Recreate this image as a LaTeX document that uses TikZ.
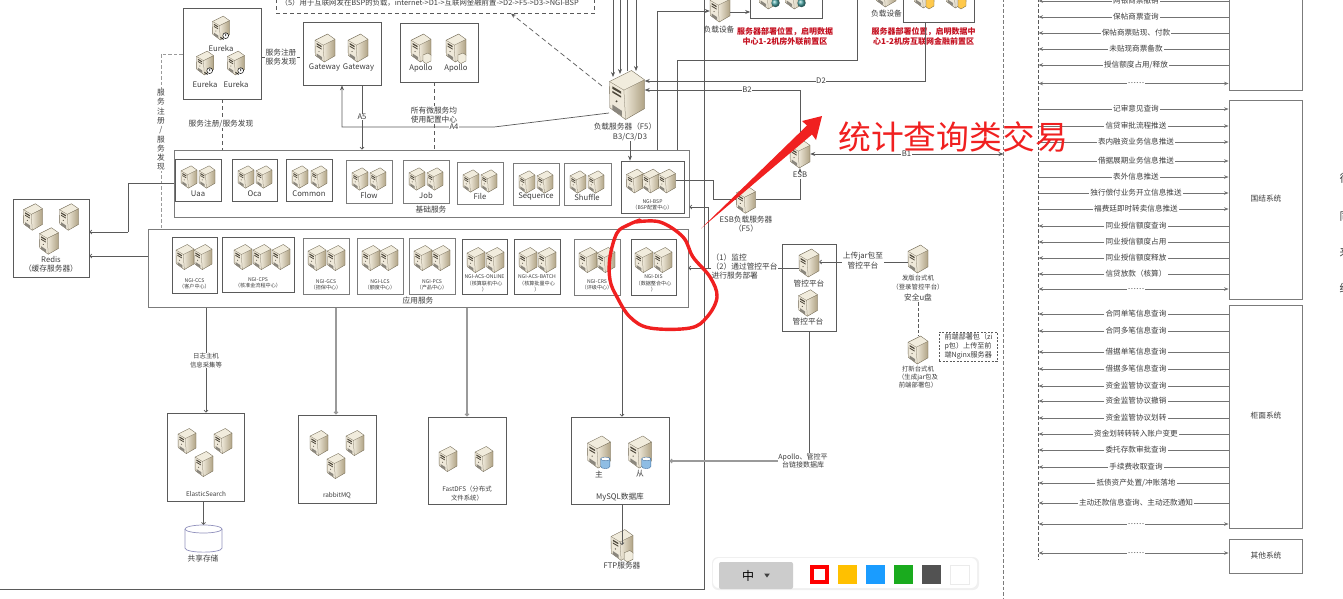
\documentclass[tikz,border=0pt]{standalone}
\usepackage{fontspec}
\setmainfont{Noto Sans CJK SC}
\usepackage{xcolor}
\usetikzlibrary{arrows.meta,positioning,shapes.geometric,fit}
\definecolor{linedark}{HTML}{5A5A5A}
\definecolor{linegray}{HTML}{9A9A9A}
\definecolor{textdark}{HTML}{3C3C3C}
\definecolor{srvedge}{HTML}{6E6550}
\definecolor{srvtop}{HTML}{F1ECDD}
\definecolor{srvfront}{HTML}{EFE9DA}
\definecolor{srvside}{HTML}{AFA284}
\definecolor{srvslot}{HTML}{4C4639}
\definecolor{redmark}{HTML}{F02020}
\definecolor{redtext}{HTML}{C41020}
\definecolor{diskblue}{HTML}{8FBDE4}
\definecolor{diskedge}{HTML}{3F6E9E}
% server icon: invisible node + drawing, so connectors can end on its name
\newcommand{\srv}[3][1]{%
  \node[srvbox=#1] (#2) at (#3) {};
  \pic[scale=#1] at (#2) {srvicon};
}
% message rows between the lane and a system box
\newcommand{\msgl}[4]{%
  \node[msglbl] (#1) at (1136,#3) {#4};
  \draw[msgline] (#2.west |- #1) -- (#1);
  \draw[msgarrow] (#1) -- (lane |- #1);
}
\newcommand{\msgr}[4]{%
  \node[msglbl] (#1) at (1136,#3) {#4};
  \draw[msgline] (lane |- #1) -- (#1);
  \draw[msgarrow] (#1) -- (#2.west |- #1);
}
\newcommand{\msgb}[4]{%
  \node[msglbl] (#1) at (1136,#3) {#4};
  \draw[msgarrow] (#1) -- (#2.west |- #1);
  \draw[msgarrow] (#1) -- (lane |- #1);
}
\begin{document}
\begin{tikzpicture}[
  x=1pt, y=-1pt,
  frame/.style = {rectangle, draw=linedark, line width=.7pt, inner sep=0pt},
  pane/.style  = {rectangle, draw=linegray!80!black, line width=.9pt, inner sep=0pt},
  srvbox/.style = {rectangle, inner sep=0pt, minimum width=#1*20pt, minimum height=#1*28pt},
  lbl/.style   = {font=\fontsize{7.7}{9.2}\selectfont, text=textdark, align=center, inner sep=.5pt},
  midlbl/.style = {font=\fontsize{6.4}{8.4}\selectfont, text=textdark, align=center, inner sep=.5pt},
  tinylbl/.style = {font=\fontsize{5.1}{6.2}\selectfont, text=textdark, align=center, inner sep=.3pt},
  redlbl/.style = {font=\fontsize{8}{10}\selectfont\bfseries, text=redtext, align=center, inner sep=0pt},
  msglbl/.style = {font=\fontsize{7.6}{9}\selectfont, text=textdark, inner sep=1pt},
  wire/.style  = {draw=linedark, line width=.7pt},
  wiregray/.style = {draw=linegray, line width=1.1pt},
  arrow/.style = {-{Stealth[length=5pt,width=4pt]}, wire},
  backarrow/.style = {{Stealth[length=5pt,width=4pt]}-, wire},
  oarrow/.style = {-{Straight Barb[length=2pt,width=4pt]}, wire},
  oarrowgray/.style = {-{Straight Barb[length=2pt,width=4pt]}, wiregray},
  dashwire/.style = {draw=linedark, line width=.7pt, dash pattern=on 4pt off 3pt},
  graydash/.style = {draw=linegray, line width=1pt, dash pattern=on 3.5pt off 2pt},
  msgline/.style = {draw=linedark!85, line width=.8pt},
  msgarrow/.style = {-{Stealth[length=4.5pt,width=3.6pt]}, msgline},
  swatch/.style = {rectangle, minimum size=19pt, inner sep=0pt},
  srvicon/.pic = {
    \fill[srvtop] (-10,-7.7) -- (2.6,-14) -- (10,-8.7) -- (-1.8,-2.8) -- cycle;
    \fill[srvfront] (-10,-7.7) -- (-1.8,-2.8) -- (-.8,14) -- (-9.8,7.3) -- cycle;
    \shade[left color=srvfront, right color=srvside] (-1.8,-2.8) -- (10,-8.7) -- (10,7.8) -- (-.8,14) -- cycle;
    \draw[srvedge, line width=.35pt, line join=round] (-10,-7.7) -- (2.6,-14) -- (10,-8.7) -- (10,7.8) -- (-.8,14) -- (-9.8,7.3) -- cycle;
    \draw[srvedge, line width=.25pt] (-10,-7.7) -- (-1.8,-2.8) -- (10,-8.7) (-1.8,-2.8) -- (-.8,14);
    \fill[srvslot] (-8.4,-5) -- (-3.4,-2) -- (-3.4,-.7) -- (-8.4,-3.6) -- cycle;
    \fill[srvslot] (-8.4,-2.4) -- (-3.4,.6) -- (-3.4,1.5) -- (-8.4,-1.4) -- cycle;
    \fill[srvslot] (-6,3.6) circle (.6);
    \fill[srvslot!65] (-8.3,5.5) -- (-3,9) -- (-3,12) -- (-8.3,8.6) -- cycle;
  },
  clockbadge/.pic = {
    \draw[black, fill=white, line width=.5pt] (5.5,9) circle (3.4);
    \draw[black, line width=.7pt] (5.5,6.5) -- (5.5,9.5) (-.5,11) -- (3,13.5);
  },
  docbadge/.pic = {
    \fill[srvtop] (2,7) -- (7,5) -- (10,7) -- (10,13) -- (5,15.5) -- (2,13.5) -- cycle;
    \draw[srvedge, line width=.35pt] (2,7) -- (7,5) -- (10,7) -- (10,13) -- (5,15.5) -- (2,13.5) -- cycle;
  },
  dbbadge/.pic = {
    \fill[diskblue, draw=diskedge, line width=.4pt] (1.5,6) -- (1.5,12.5) .. controls (1.5,15) and (9.5,15) .. (9.5,12.5) -- (9.5,6) -- cycle;
    \draw[fill=white, draw=diskedge, line width=.4pt] (5.5,6) ellipse (4 and 1.6);
  },
  globebadge/.pic = {
    \shade[ball color=green!50!blue!70, draw=none] (6.5,8) circle (4.2);
  },
  orangebadge/.pic = {
    \fill[orange!60!yellow!70, draw=srvedge, line width=.35pt] (2,6) -- (7,4) -- (10,6) -- (10,12) -- (5,15) -- (2,13) -- cycle;
  },
]
\path[use as bounding box, clip] (0,0) rectangle (1343,598);

%% ---- Outer border and dashed lanes ----
\coordinate (outertop) at (704,-2);
\coordinate (outerleft) at (-2,589);
\draw[wire] (outerleft) -| (outertop);
\coordinate (lane) at (1038.5,0);
\coordinate (lanetop) at (1038.5,-2);
\coordinate (laneend) at (1038.5,560);
\coordinate (zonetop) at (1003.5,-2);
\coordinate (zoneend) at (1003.5,600);
\draw[graydash, draw=linedark] (lanetop) -- (laneend);
\draw[graydash, draw=linedark!80] (zonetop) -- (zoneend);

%% ---- Note box at the top ----
\node[frame, dashwire, fit={(276,-8) (594.5,13)}] (notebox) {};
\node[lbl, font=\fontsize{7.4}{9}\selectfont, anchor=west] (notetxt) at (280,3) {（5）用于互联网发在BSP的负载，internet->D1->互联网金融前置->D2->F5->D3->NGI-BSP};

%% ---- Eureka ----
\node[frame, fit={(183,8) (261,99)}] (eurekabox) {};
\srv[.85]{eurekaa}{221,28}
\srv[.85]{eurekab}{205,63}
\srv[.85]{eurekac}{236,63}
\pic[scale=.85] at (eurekaa) {clockbadge};
\pic[scale=.85] at (eurekab) {clockbadge};
\pic[scale=.85] at (eurekac) {clockbadge};
\node[lbl] (eurekaalbl) at (221,48.5) {Eureka};
\node[lbl] (eurekablbl) at (205,84) {Eureka};
\node[lbl] (eurekaclbl) at (236,84) {Eureka};

%% ---- Gateway and Apollo ----
\node[frame, fit={(303,22) (381,85)}] (gatebox) {};
\srv{gatea}{325,48}
\srv{gateb}{358,48}
\node[lbl] (gatealbl) at (324.5,68) {Gateway};
\node[lbl] (gateblbl) at (358.5,68) {Gateway};

\node[frame, fit={(400,23) (478,82)}] (apollobox) {};
\srv{apolloa}{421,48}
\srv{apollob}{456,48}
\pic at (apolloa) {docbadge};
\pic at (apollob) {docbadge};
\node[lbl] (apolloalbl) at (421,68) {Apollo};
\node[lbl] (apolloblbl) at (456,68) {Apollo};

%% ---- Base services ----
\node[pane, fit={(174,150) (689,217)}] (basesvc) {};
\node[lbl] (basesvclbl) at (431,210) {基础服务};

\node[frame, fit={(175.5,159) (221,201)}] (uaabox) {};
\srv[.8]{uaaa}{189,177}
\srv[.8]{uaab}{207,177}
\node[lbl] (uaalbl) at (198,194) {Uaa};

\node[frame, fit={(232,159) (277,201)}] (ocabox) {};
\srv[.8]{ocaa}{246,177}
\srv[.8]{ocab}{264,177}
\node[lbl] (ocalbl) at (254.5,194) {Oca};

\node[frame, fit={(286,159) (332,201)}] (commonbox) {};
\srv[.8]{commona}{300,177}
\srv[.8]{commonb}{319,177}
\node[lbl] (commonlbl) at (309,194) {Common};

\node[pane, fit={(346,160) (392,203)}] (flowbox) {};
\srv[.8]{flowa}{360,179}
\srv[.8]{flowb}{378,179}
\node[lbl] (flowlbl) at (369,195) {Flow};

\node[pane, fit={(403,160) (449,203)}] (jobbox) {};
\srv[.8]{joba}{417,179}
\srv[.8]{jobb}{435,179}
\node[lbl] (joblbl) at (426,195) {Job};

\node[pane, fit={(457,162) (503,204)}] (filebox) {};
\srv[.8]{filea}{471,181}
\srv[.8]{fileb}{489,181}
\node[lbl] (filelbl) at (480,196) {File};

\node[pane, fit={(513,163) (559,205)}] (seqbox) {};
\srv[.8]{seqa}{527,182}
\srv[.8]{seqb}{545,182}
\node[lbl] (seqlbl) at (536,197) {Sequence};

\node[pane, fit={(564,163) (611,205)}] (shufbox) {};
\srv[.8]{shufa}{578,182}
\srv[.8]{shufb}{596,182}
\node[lbl] (shuflbl) at (587,197) {Shuffle};

\node[frame, fit={(621,161) (684,213)}] (bspbox) {};
\srv[.85]{bspa}{635,181}
\srv[.85]{bspb}{651,181}
\srv[.85]{bspc}{667,181}
\node[tinylbl] (bsplbl) at (652.5,205) {NGI-BSP\\（BSP配置中心）};

%% ---- Application services ----
\node[pane, fit={(148,229) (688,307.5)}] (appsvc) {};
\node[lbl] (appsvclbl) at (418,300.5) {应用服务};

\node[frame, fit={(172,237) (217,293)}] (ccsbox) {};
\srv[.9]{ccsa}{185,257}
\srv[.9]{ccsb}{203,257}
\node[tinylbl] (ccslbl) at (194.5,284) {NGI-CCS\\（客户中心）};

\node[frame, fit={(222,237) (294,292)}] (cpsbox) {};
\srv[.9]{cpsa}{243,257}
\srv[.9]{cpsb}{262,257}
\srv[.9]{cpsc}{281,257}
\node[tinylbl] (cpslbl) at (258,283) {NGI-CPS\\（核准金流程中心）};

\node[pane, fit={(303,238) (349,294)}] (gcsbox) {};
\srv[.9]{gcsa}{317,258}
\srv[.9]{gcsb}{336,258}
\node[tinylbl] (gcslbl) at (326,285) {NGI-GCS\\（担保中心）};

\node[pane, fit={(357,238) (403,294)}] (lcsbox) {};
\srv[.9]{lcsa}{371,258}
\srv[.9]{lcsb}{389,258}
\node[tinylbl] (lcslbl) at (380,285) {NGI-LCS\\（额度中心）};

\node[pane, fit={(409,238) (455,294)}] (pcsbox) {};
\srv[.9]{pcsa}{423,258}
\srv[.9]{pcsb}{441,258}
\node[tinylbl] (pcslbl) at (432,285) {NGI-PCS\\（产品中心）};

\node[frame, fit={(462,239) (507,294)}] (onlinebox) {};
\srv[.9]{onlinea}{476,260}
\srv[.9]{onlineb}{495,260}
\node[tinylbl] (onlinelbl) at (484.5,283.5) {NGI-ACS-ONLINE\\（核算联机中心\\）};

\node[frame, fit={(514,239) (560,294)}] (batchbox) {};
\srv[.9]{batcha}{528,260}
\srv[.9]{batchb}{547,260}
\node[tinylbl] (batchlbl) at (537,283.5) {NGI-ACS-BATCH\\（核算批量中心\\）};

\node[pane, fit={(574,239) (620,295)}] (crsbox) {};
\srv[.9]{crsa}{588,260}
\srv[.9]{crsb}{606,260}
\node[tinylbl] (crslbl) at (597,285) {NGI-CRS\\（评级中心）};

\node[frame, fit={(631,239) (676,295)}] (disbox) {};
\srv[.9]{disa}{644,260}
\srv[.9]{disb}{663,260}
\node[tinylbl] (dislbl) at (653.5,283.5) {NGI-DIS\\（数据整合中心\\）};

%% ---- Redis ----
\node[frame, fit={(13,199) (89,277)}] (redisbox) {};
\srv[.95]{redisa}{33,217}
\srv[.95]{redisb}{69,217}
\srv[.95]{redisc}{49,241}
\node[lbl] (redislbl) at (51,264.5) {Redis\\（缓存服务器）};

%% ---- Storage row ----
\node[frame, fit={(167,413) (244,501)}] (elkbox) {};
\srv[.9]{elka}{187,441}
\srv[.9]{elkb}{223,441}
\srv[.9]{elkc}{204,464}
\node[midlbl] (elklbl) at (206,494) {ElasticSearch};
\node[rectangle, inner sep=0pt, minimum width=37pt, minimum height=28pt] (sharedisk) at (203.5,539) {};
\draw[blue!25!gray!70, line width=.7pt] (203.5,529) ellipse (18.5 and 4);
\draw[blue!25!gray!70, line width=.7pt] (185,529) -- (185,548) .. controls (185,553.5) and (222,553.5) .. (222,548) -- (222,529);
\node[lbl] (sharedisklbl) at (203,559) {共享存储};

\node[frame, fit={(298,415) (376,503)}] (mqbox) {};
\srv[.9]{mqa}{319,443}
\srv[.9]{mqb}{355,443}
\srv[.9]{mqc}{336,466}
\node[midlbl] (mqlbl) at (337,496) {rabbitMQ};

\node[frame, fit={(428,417) (506,504)}] (dfsbox) {};
\srv[.9]{dfsa}{448,459}
\srv[.9]{dfsb}{484,459}
\node[midlbl] (dfslbl) at (467,493.5) {FastDFS（分布式\\文件系统）};

\node[frame, fit={(571,417) (669,504)}] (mysqlbox) {};
\srv[1.15]{mysqla}{599,452}
\srv[1.15]{mysqlb}{640,452}
\pic[scale=1.15] at (mysqla) {dbbadge};
\pic[scale=1.15] at (mysqlb) {dbbadge};
\node[lbl] (mysqlalbl) at (599,474) {主};
\node[lbl] (mysqlblbl) at (640,474) {从};
\node[lbl] (mysqllbl) at (620,497) {MySQL数据库};

\srv[1.1]{ftp}{622,545}
\pic[scale=1.1] at (ftp) {docbadge};
\node[lbl] (ftplbl) at (622,566) {FTP服务器};

%% ---- Load balancers and front zones ----
\srv[1.75]{ffive}{627,95}
\node[lbl] (ffivelbl) at (625,127) {负载服务器（F5）};
\node[lbl, fill=white] (ffivepath) at (630,137) {B3/C3/D3};

\srv{lba}{720,8}
\node[lbl] (lbalbl) at (719,30) {负载设备};
\node[frame, fit={(750.5,-8) (822,18)}] (extbox) {};
\srv{exta}{769,-5}
\srv{extb}{795,-5}
\pic at (exta) {globebadge};
\pic at (extb) {globebadge};
\node[redlbl] (extlbl) at (785,36) {服务器部署位置，启明数据\\中心1-2机房外联前置区};

\srv{lbb}{886,-7}
\node[lbl] (lbblbl) at (886.5,14) {负载设备};
\node[frame, fit={(903.6,-8) (974.5,22.6)}] (netbox) {};
\srv{neta}{924,-6}
\srv{netb}{956,-6}
\pic at (neta) {orangebadge};
\pic at (netb) {orangebadge};
\node[redlbl] (netlbl) at (923.6,36) {服务器部署位置，启明数据中\\心1-2机房互联网金融前置区};

\srv{esb}{800,154}
\node[lbl, fill=white] (esblbl) at (800,175) {ESB};
\srv[.95]{esblb}{746,200}
\node[lbl] (esblblb) at (746,224.5) {ESB负载服务器\\（F5）};

%% ---- Deploy side ----
\node[frame, fit={(782,244) (836,331)}] (ctlbox) {};
\srv{ctla}{809,263}
\srv[.95]{ctlb}{808,303}
\node[lbl] (ctlalbl) at (809,284) {管控平台};
\node[lbl] (ctlblbl) at (808,322) {管控平台};

\srv{pubpc}{918,259}
\node[midlbl] (pubpclbl) at (918,282.5) {发版台式机\\（登录管控平台）};
\node[lbl, fill=white] (udisk) at (918,298) {安全u盘};
\srv{buildpc}{918,350}
\node[midlbl] (buildpclbl) at (918,377) {打新台式机\\（生成jar包及\\前端部署包）};
\node[rectangle, draw=linedark, line width=.6pt, dash pattern=on 2pt off 1.5pt, fit={(939,332) (997,361)}, inner sep=0pt] (frontnote) {};
\node[lbl, font=\fontsize{7.1}{9}\selectfont, align=left] (frontnotelbl) at (968.5,346.5) {前端部署包（zi\\p包）上传至前\\端Nginx服务器};

%% ---- Right side systems ----
\node[pane, fit={(1229,-8) (1302,90)}] (sysa) {};
\node[pane, fit={(1229,100) (1302,299)}] (sysb) {};
\node[lbl] (sysblbl) at (1266,199) {国结系统};
\node[pane, fit={(1229,305) (1302,528)}] (sysc) {};
\node[lbl] (sysclbl) at (1266,416) {柜面系统};
\node[pane, fit={(1229,539) (1302,573)}] (sysd) {};
\node[lbl] (sysdlbl) at (1266,556) {其他系统};

%% ---- Message rows ----
\msgl{ma}{sysa}{1}{网银商票撤销}
\msgl{mb}{sysa}{17}{保帖商票查询}
\msgl{mc}{sysa}{33}{保帖商票贴现、付款}
\msgl{md}{sysa}{49}{未贴现商票备款}
\msgl{me}{sysa}{65}{授信额度占用/释放}
\msgb{mf}{sysa}{83.5}{……}

\msgr{ng}{sysb}{109}{记审意见查询}
\msgr{nh}{sysb}{126}{信贷审批流程推送}
\msgr{ni}{sysb}{142}{表内融资业务信息推送}
\msgr{nj}{sysb}{161}{借据展期业务信息推送}
\msgr{nk}{sysb}{177}{表外信息推送}
\msgr{nl}{sysb}{193}{独行偿付业务开立信息推送}
\msgr{nm}{sysb}{209}{福费廷即时转卖信息推送}
\msgl{nn}{sysb}{226}{同业授信额度查询}
\msgl{no}{sysb}{242}{同业授信额度占用}
\msgl{np}{sysb}{258}{同业授信额度释放}
\msgl{nq}{sysb}{274}{信贷放款（核算）}
\msgb{nr}{sysb}{289}{……}

\msgl{ps}{sysc}{314}{合同单笔信息查询}
\msgl{pt}{sysc}{331}{合同多笔信息查询}
\msgl{pu}{sysc}{352}{借据单笔信息查询}
\msgl{pv}{sysc}{369}{借据多笔信息查询}
\msgl{pw}{sysc}{386}{资金监管协议查询}
\msgl{px}{sysc}{401}{资金监管协议撤销}
\msgl{py}{sysc}{418}{资金监管协议划转}
\msgl{pz}{sysc}{434}{资金划转转转入账户变更}
\msgl{qa}{sysc}{450}{委托存款审批查询}
\msgl{qb}{sysc}{467}{手续费收取查询}
\msgl{qc}{sysc}{483}{抵债资产处置/冲账落地}
\msgl{qd}{sysc}{503}{主动还款信息查询、主动还款通知}
\msgb{qe}{sysc}{524}{……}
\msgb{qf}{sysd}{553}{……}

%% ---- Service discovery wiring ----
\draw[dashwire] (eurekabox.east |- 0,57) -- (gatebox.west |- 0,57);
\node[lbl, fill=white] (regside) at (281,57) {服务注册\\服务发现};
\draw[dashwire] (eurekabox.south) -- (eurekabox.south |- basesvc.north);
\node[lbl, fill=white] (regdown) at (221,124) {服务注册/服务发现};
\draw[graydash] (eurekabox.west |- 0,54) -| (161,229);
\node[lbl, fill=white, font=\fontsize{7.7}{9.3}\selectfont, text width=8pt] (regleft) at (161,130) {服\\务\\注\\册\\/\\服\\务\\发\\现};

\coordinate (apollodown) at (434,82);
\draw[dashwire] (apollodown) -- (apollodown |- basesvc.north);
\node[lbl, fill=white] (cfglbl) at (434,115) {所有微服务均\\使用配置中心};

\coordinate (gatedown) at (362,85);
\draw[oarrow] (gatedown) -- (gatedown |- basesvc.north);
\node[lbl, fill=white] (afive) at (362,117) {A5};
\coordinate (ffiveleft) at (609,113);
\draw[arrow] (ffiveleft) -- (494,127) -- (342,127) -- (342,0 |- gatebox.south);
\node[lbl, fill=white] (afour) at (454,127) {A4};

\coordinate (ffivedash) at (602,86);
\coordinate (notetip) at (511,13.5);
\draw[arrow, dash pattern=on 5pt off 3pt] (ffivedash) -- (notetip);

%% ---- Wiring around the load balancer ----
\coordinate (ina) at (613,-2);
\coordinate (inb) at (620,-2);
\coordinate (inc) at (627,-2);
\coordinate (ind) at (636,-2);
\draw[arrow] (ina) -- (ina |- 0,77);
\draw[arrow] (inb) -- (inb |- 0,74);
\draw[wire] (inc) -- (inc |- 0,71);
\draw[arrow] (ind) -- (ind |- 0,71);
\draw[arrow] (ffivepath) -- (ffivepath |- bspbox.north);

\coordinate (basea) at (657.5,150);
\coordinate (baseb) at (677.5,150);
\draw[arrow] (basea) |- (lba.west |- 0,11);
\draw[wire] (baseb) |- (857.5,60) -- (857.5,-2);
\draw[arrow] (lba.east |- 0,12) -- (extbox.west |- 0,12);
\draw[backarrow] (ffive.east |- 0,81) -| (925.5,22.6);
\node[lbl, fill=white] (dtwo) at (821,81) {D2};
\draw[backarrow] (ffive.east |- 0,90) -| (esb.north);
\node[lbl, fill=white] (btwo) at (747,90) {B2};
\draw[wire, {Stealth[length=5pt,width=4pt]}-{Stealth[length=5pt,width=4pt]}] (esb.east) -- (zonetop |- esb.east);
\node[lbl, fill=white] (bone) at (906.5,154) {B1};
\draw[wire] (esblb.east |- 0,199) -| (esblbl.south);
\draw[arrow] (esblbl.north) -- (esb.south);
\draw[wire] (bspc.east |- 0,180) -| (713,199) -- (esblb.west |- 0,199);

%% ---- Wiring to the deploy side ----
\node[lbl, anchor=north west, align=left, fill=white, inner sep=.5pt] (deploylbl) at (711,253) {（1）监控\\（2）通过管控平台\\进行服务部署};
\draw[wire] (ctla.west |- 0,268) -- (deploylbl.east |- 0,268);
\coordinate (deployvert) at (708,268);
\draw[oarrow] (deployvert) -- (appsvc.east |- deployvert);
\draw[oarrow] (deployvert) |- (basesvc.east |- 0,207);
\draw[wire] (deploylbl.west |- deployvert) -- (deployvert);
\draw[oarrow] (pubpc.west |- 0,262) -- (ctla.east |- 0,262);
\node[lbl, fill=white] (uploadlbl) at (863,260.5) {上传jar包至\\管控平台};
\draw[graydash, draw=linedark] (udisk.south) -- (buildpc.north);

%% ---- Wiring to the storage ----
\draw[wire] (basesvc.west) -- (128,0 |- basesvc.west) -- (128,232);
\draw[oarrow] (128,232) -- (redisbox.east |- 0,232);
\draw[oarrow] (appsvc.west |- 0,256) -- (redisbox.east |- 0,256);
\coordinate (logdown) at (206,307.5);
\draw[oarrow] (logdown) -- (logdown |- elkbox.north);
\node[midlbl, fill=white] (loglbl) at (206,360.5) {日志主机\\信息采集等};
\coordinate (mqdown) at (336,307.5);
\draw[oarrowgray] (mqdown) -- (mqdown |- mqbox.north);
\coordinate (dfsdown) at (467,307.5);
\draw[oarrowgray] (dfsdown) -- (dfsdown |- dfsbox.north);
\coordinate (dbdown) at (622,307.5);
\draw[oarrow] (dbdown) -- (dbdown |- mysqlbox.north);
\draw[oarrow] (sharedisk.north |- elkbox.south) -- (sharedisk.north);
\draw[oarrow] (ftp.center |- mysqlbox.south) -- (ftp.center);
\draw[wire] (ctlbox.south) -- (ctlbox.south |- 0,455);
\node[midlbl, fill=white, font=\fontsize{7}{8.6}\selectfont] (dblinklbl) at (803,461) {Apollo、管控平\\台链接数据库};
\draw[oarrowgray] (dblinklbl.west) -- (mysqlbox.east |- dblinklbl.west);

%% ---- Hand-drawn marks on top ----
\fill[redmark] (701,228.5) -- (807,125.5) -- (802,121) -- (822,116) -- (816,140) -- (812,134.5) -- cycle;
\draw[redmark, line width=3.4pt, line cap=round] plot[smooth, tension=.6] coordinates {(640,220) (628,225) (617,233) (610,257) (610,280) (617,297) (630,317) (650,328) (690,328) (707,317) (717,297) (710,277) (693,257) (683,237) (660,222) (636,222)};
\node[inner sep=0pt, text=redmark, font=\fontsize{32.8}{34}\selectfont] (statlbl) at (953,137) {统计查询类交易};

%% ---- Cut-off text at the right edge ----
\node[lbl, font=\fontsize{11}{12}\selectfont, anchor=west] (edgea) at (1339,178) {往};
\node[lbl, font=\fontsize{11}{12}\selectfont, anchor=west] (edgeb) at (1339,217) {同};
\node[lbl, font=\fontsize{11}{12}\selectfont, anchor=west] (edgec) at (1339,252) {来};
\node[lbl, font=\fontsize{11}{12}\selectfont, anchor=west] (edged) at (1339,288) {结};

%% ---- Annotation toolbar ----
\fill[black!6, rounded corners=6pt] (712,557) rectangle (979,590);
\fill[white, rounded corners=6pt] (713,558) rectangle (977,588);
\node[rectangle, rounded corners=2pt, fill=black!20, minimum width=74pt, minimum height=27pt, inner sep=0pt] (sizebtn) at (756,575.5) {};
\node[inner sep=0pt, font=\fontsize{12}{12}\selectfont] (sizetxt) at (748,576) {中};
\node[isosceles triangle, isosceles triangle apex angle=70, shape border rotate=-90, fill=black!75, minimum size=4pt, inner sep=0pt] (sizetri) at (767,575) {};
\definecolor{swatchyellow}{HTML}{FFC000}
\definecolor{swatchblue}{HTML}{1A9CFF}
\definecolor{swatchgreen}{HTML}{1AAB1E}
\node[swatch, fill=white, draw=red, line width=4.5pt, minimum size=15pt] (swred) at (819.5,574.5) {};
\node[swatch, fill=swatchyellow, anchor=west] (swyellow) at (837.5,574.5) {};
\node[swatch, fill=swatchblue, anchor=west] (swblue) at (866,574.5) {};
\node[swatch, fill=swatchgreen, anchor=west] (swgreen) at (894,574.5) {};
\node[swatch, fill=black!68, anchor=west] (swdark) at (922,574.5) {};
\node[swatch, fill=white, draw=black!8, anchor=west] (swwhite) at (950,574.5) {};
\end{tikzpicture}
\end{document}
